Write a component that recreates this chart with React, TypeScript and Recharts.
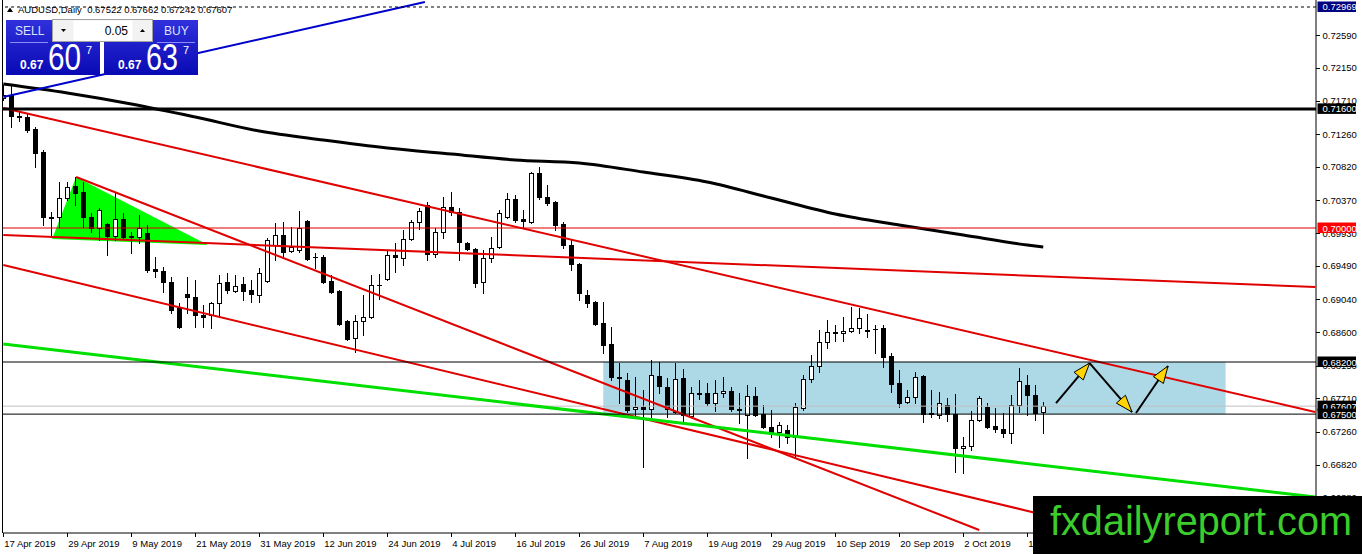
import React from "react";
import { Bar, ComposedChart, Line, ReferenceArea, ReferenceLine, XAxis, YAxis } from "recharts";

const FONT = "'Liberation Sans', Arial, sans-serif";

// date labels on the time axis, every 8th daily bar
const dateLabels = [
  "17 Apr 2019", "29 Apr 2019", "9 May 2019", "21 May 2019", "31 May 2019", "12 Jun 2019",
  "24 Jun 2019", "4 Jul 2019", "16 Jul 2019", "26 Jul 2019", "7 Aug 2019", "19 Aug 2019",
  "29 Aug 2019", "10 Sep 2019", "20 Sep 2019", "2 Oct 2019", "14 Oct 2019",
];
const dateTickBars = [0, 8, 16, 24, 32, 40, 48, 56, 64, 72, 80, 88, 96, 104, 112, 120, 128];

const priceTicks = [
  0.7259, 0.7215, 0.7171, 0.7126, 0.7082, 0.7037, 0.6993, 0.6949,
  0.6904, 0.686, 0.6815, 0.6771, 0.6726, 0.6682, 0.6638,
];

// AUDUSD daily OHLC, 17 Apr 2019 .. 16 Oct 2019
const opens = [
  0.71746, 0.71787, 0.71505, 0.71491, 0.7133, 0.71021, 0.70141, 0.70148, 0.70403, 0.70564,
  0.70484, 0.70148, 0.7, 0.70054, 0.69893, 0.70121, 0.69893, 0.69879, 0.69933, 0.69449,
  0.69422, 0.69275, 0.68925, 0.69113, 0.69073, 0.68831, 0.68831, 0.68992, 0.69275, 0.69154,
  0.69248, 0.69167, 0.691, 0.69288, 0.69772, 0.69906, 0.69691, 0.69704, 0.70094, 0.6961,
  0.6961, 0.69288, 0.69154, 0.68751, 0.68522, 0.68751, 0.68804, 0.69234, 0.69315, 0.69637,
  0.69597, 0.69852, 0.70081, 0.70309, 0.69651, 0.69946, 0.70282, 0.70215, 0.69798, 0.69718,
  0.69275, 0.69597, 0.69745, 0.70148, 0.7039, 0.70121, 0.70081, 0.70739, 0.70416, 0.70349,
  0.70054, 0.69772, 0.69516, 0.691, 0.69006, 0.68724, 0.68442, 0.67998, 0.67958, 0.67568,
  0.67595, 0.67568, 0.68012, 0.67864, 0.67528, 0.67985, 0.67474, 0.6777, 0.67784, 0.67649,
  0.67784, 0.6781, 0.67568, 0.67488, 0.67743, 0.67501, 0.67327, 0.67259, 0.67286, 0.67192,
  0.67582, 0.67971, 0.68146, 0.68469, 0.68603, 0.68589, 0.68616, 0.68657, 0.6863, 0.68643,
  0.68657, 0.6828, 0.67918, 0.67662, 0.6773, 0.68012, 0.67501, 0.67488, 0.67622, 0.67501,
  0.67045, 0.67071, 0.67421, 0.67595, 0.6734, 0.673, 0.67246, 0.67622, 0.67891, 0.67757,
  0.67522,
];
const highs = [
  0.71921, 0.71921, 0.71558, 0.71545, 0.71357, 0.71048, 0.70215, 0.70618, 0.70618, 0.70685,
  0.70618, 0.70202, 0.70269, 0.70067, 0.7047, 0.70202, 0.69946, 0.70175, 0.7004, 0.6961,
  0.69476, 0.69342, 0.68992, 0.69342, 0.69301, 0.68966, 0.69006, 0.69369, 0.69395, 0.69369,
  0.69342, 0.69301, 0.69463, 0.69866, 0.70067, 0.70081, 0.70013, 0.70228, 0.70107, 0.69664,
  0.69637, 0.69369, 0.69167, 0.68764, 0.68831, 0.691, 0.69369, 0.69382, 0.69704, 0.69798,
  0.69973, 0.70107, 0.70269, 0.70349, 0.7, 0.70416, 0.70484, 0.70269, 0.69812, 0.69731,
  0.69704, 0.69879, 0.70242, 0.7047, 0.70443, 0.70242, 0.70752, 0.70819, 0.70578, 0.70362,
  0.70081, 0.69839, 0.6953, 0.69167, 0.6902, 0.69006, 0.6867, 0.68186, 0.68052, 0.67998,
  0.67824, 0.68227, 0.682, 0.67985, 0.68186, 0.68106, 0.67864, 0.67958, 0.67918, 0.67958,
  0.67998, 0.67864, 0.67784, 0.67891, 0.67864, 0.67622, 0.67555, 0.67394, 0.67354, 0.67649,
  0.68025, 0.68294, 0.6863, 0.68764, 0.68697, 0.68804, 0.68939, 0.68925, 0.68845, 0.68697,
  0.68697, 0.68321, 0.68092, 0.67824, 0.68065, 0.68025, 0.67824, 0.67797, 0.67716, 0.6777,
  0.67192, 0.67542, 0.67743, 0.67649, 0.67582, 0.67515, 0.67757, 0.68119, 0.68025, 0.67891,
  0.67662,
];
const lows = [
  0.7172, 0.71357, 0.71437, 0.7129, 0.70819, 0.7004, 0.69879, 0.70013, 0.70376, 0.70309,
  0.70013, 0.69946, 0.69839, 0.69637, 0.69839, 0.69866, 0.69664, 0.69798, 0.69409, 0.69342,
  0.6914, 0.68858, 0.68657, 0.68858, 0.6867, 0.6867, 0.68657, 0.68831, 0.69127, 0.6914,
  0.69033, 0.69006, 0.69006, 0.69275, 0.6957, 0.6961, 0.69678, 0.69678, 0.6957, 0.69463,
  0.69261, 0.69127, 0.68697, 0.68495, 0.68334, 0.68563, 0.68791, 0.69046, 0.69301, 0.69409,
  0.69503, 0.69839, 0.69987, 0.6957, 0.6961, 0.69866, 0.70175, 0.6957, 0.69704, 0.69207,
  0.69127, 0.69543, 0.69731, 0.70134, 0.70081, 0.7, 0.70067, 0.7039, 0.70309, 0.69973,
  0.69731, 0.69436, 0.69033, 0.68939, 0.68697, 0.68321, 0.67958, 0.67649, 0.67528, 0.67488,
  0.66789, 0.67461, 0.67784, 0.67461, 0.67515, 0.6738, 0.67461, 0.67703, 0.67622, 0.67542,
  0.6773, 0.67542, 0.6738, 0.6691, 0.67474, 0.67313, 0.67192, 0.67058, 0.67112, 0.66924,
  0.67555, 0.67931, 0.68065, 0.68388, 0.68482, 0.68482, 0.68603, 0.68589, 0.68536, 0.68321,
  0.68133, 0.67797, 0.67595, 0.67649, 0.67649, 0.67394, 0.67461, 0.67447, 0.67407, 0.66722,
  0.66709, 0.67018, 0.67407, 0.67313, 0.67259, 0.67192, 0.67112, 0.67528, 0.67488, 0.67421,
  0.67242,
];
const closes = [
  0.71787, 0.71505, 0.71491, 0.71317, 0.71008, 0.70148, 0.70154, 0.70403, 0.70551, 0.7047,
  0.70148, 0.7, 0.70242, 0.69893, 0.70121, 0.69879, 0.69879, 0.7, 0.69436, 0.69422,
  0.69275, 0.68898, 0.6867, 0.69073, 0.68831, 0.68804, 0.68992, 0.69261, 0.69167, 0.69221,
  0.69154, 0.69113, 0.69395, 0.69839, 0.69906, 0.69678, 0.69745, 0.7, 0.69584, 0.69604,
  0.69275, 0.6914, 0.6871, 0.68509, 0.68751, 0.68804, 0.69234, 0.69241, 0.69637, 0.6961,
  0.69852, 0.70081, 0.70228, 0.69651, 0.69946, 0.70282, 0.70215, 0.69812, 0.69718, 0.69261,
  0.69597, 0.69731, 0.70202, 0.7039, 0.70107, 0.70094, 0.70739, 0.70416, 0.70336, 0.7004,
  0.69772, 0.69516, 0.69127, 0.68992, 0.6871, 0.68428, 0.67998, 0.67991, 0.67555, 0.67595,
  0.67568, 0.68025, 0.67877, 0.67568, 0.67971, 0.67488, 0.67784, 0.67777, 0.67649, 0.67784,
  0.6781, 0.67568, 0.67562, 0.67743, 0.67488, 0.67327, 0.67259, 0.67354, 0.67192, 0.67595,
  0.67971, 0.68146, 0.68469, 0.68603, 0.68596, 0.68616, 0.68657, 0.68791, 0.68623, 0.68637,
  0.68267, 0.67904, 0.67649, 0.6773, 0.67998, 0.67501, 0.67515, 0.67649, 0.67501, 0.67045,
  0.67071, 0.67421, 0.67716, 0.67327, 0.673, 0.67246, 0.67622, 0.67945, 0.67757, 0.67515,
  0.67607,
];

// moving average read at every 8th bar
const maSamples: [number, number][] = [
  [0, 0.71934], [8, 0.71814], [16, 0.71666], [24, 0.71491], [32, 0.71303], [40, 0.71182],
  [48, 0.71075], [56, 0.70994], [64, 0.70914], [72, 0.70873], [80, 0.70752], [88, 0.70618],
  [96, 0.70403], [104, 0.70188], [112, 0.7004], [120, 0.69906], [128, 0.69772], [130, 0.69745],
];

// horizontal levels
const topLevel = 0.72969;
const resistance = 0.716;
const roundLevel = 0.7;
const zoneHigh = 0.682;
const zoneLow = 0.675;
const bidPrice = 0.67607;
const zoneBars = [75, 152.8];
// price tags on the right scale, drawn after the plain tick labels
const tagPrices = [topLevel, resistance, roundLevel, zoneHigh, bidPrice, zoneLow];

// trend lines as [bar, price] pairs
const redLines: [number, number][][] = [
  [[0, 0.71612], [164, 0.67528]],
  [[0, 0.69906], [164, 0.69207]],
  [[0, 0.69503], [139, 0.65917]],
  [[9.1, 0.70685], [122, 0.65943]],
];
const greenLine: [number, number][] = [[0, 0.68442], [164, 0.66386]];
const blueLine: [number, number][] = [[0, 0.7176], [52.7, 0.73036]];
const triangle: [number, number][] = [[9.1, 0.70685], [6.1, 0.69852], [25.6, 0.69772]];
const arrows: [number, number][][] = [
  [[131.6, 0.67649], [135.8, 0.68186]],
  [[135.8, 0.68186], [141.1, 0.67528]],
  [[141.6, 0.67515], [145.6, 0.68146]],
];

const maByBar = new Map(maSamples);
const data = opens.map((open, i) => ({
  i,
  open,
  high: highs[i],
  low: lows[i],
  close: closes[i],
  ma: maByBar.has(i) ? maByBar.get(i) : null,
}));

const tagBg: Record<string, string> = {
  "0.72969": "#000080",
  "0.70000": "#ff0000",
};

function Candle(props: any) {
  const { x, y, width, height, payload } = props;
  if (!payload || x == null) return null;
  const { open, close, high, low } = payload;
  const top = Math.min(y, y + height);
  const h = Math.abs(height);
  const k = high > low ? h / (high - low) : 0;
  const cx = Math.round(x + width / 2) + 0.5;
  const yO = top + (high - open) * k;
  const yC = top + (high - close) * k;
  const bTop = Math.round(Math.min(yO, yC)) + 0.5;
  const bBot = Math.round(Math.max(yO, yC)) + 0.5;
  const bull = close >= open;
  return (
    <g>
      <line x1={cx} x2={cx} y1={Math.round(top)} y2={Math.round(top + h) + 1} stroke="#000" strokeWidth={1} />
      {bBot - bTop < 1 ? (
        <line x1={cx - 2.5} x2={cx + 2.5} y1={bTop} y2={bTop} stroke="#000" strokeWidth={1} />
      ) : (
        <rect x={cx - 2} y={bTop} width={4} height={bBot - bTop} fill={bull ? "#fff" : "#000"} stroke="#000" strokeWidth={1} />
      )}
    </g>
  );
}

function DateTick(props: any) {
  const { x, y, payload } = props;
  const idx = dateTickBars.indexOf(payload.value);
  return (
    <g>
      <line x1={Math.round(x) + 0.5} x2={Math.round(x) + 0.5} y1={y} y2={y + 4} stroke="#000" />
      <text x={x + 1} y={y + 13.5} fontSize={9.5} fontFamily={FONT} fill="#000">
        {dateLabels[idx]}
      </text>
    </g>
  );
}

function PriceTick(props: any) {
  const { x, y, payload, index } = props;
  const text = payload.value.toFixed(5);
  if (index >= priceTicks.length) {
    return (
      <g>
        <rect x={x + 1.5} y={y - 5.5} width={38.5} height={10.5} fill={tagBg[text] || "#000"} />
        <text x={x + 6.5} y={y + 3.5} fill="#fff" fontSize={9.5} fontFamily={FONT}>
          {text}
        </text>
      </g>
    );
  }
  return (
    <g>
      <line x1={x} x2={x + 4} y1={Math.round(y) + 0.5} y2={Math.round(y) + 0.5} stroke="#000" />
      <text x={x + 6.5} y={y + 3.5} fontSize={9.5} fontFamily={FONT} fill="#000">
        {text}
      </text>
    </g>
  );
}

function ArrowShape(props: any) {
  const { x1, y1, x2, y2 } = props;
  const dx = x2 - x1;
  const dy = y2 - y1;
  const len = Math.hypot(dx, dy) || 1;
  const ux = dx / len;
  const uy = dy / len;
  const hl = 17;
  const hw = 6;
  const bx = x2 - ux * hl;
  const by = y2 - uy * hl;
  const pts = `${x2},${y2} ${bx - uy * hw},${by + ux * hw} ${bx + uy * hw},${by - ux * hw}`;
  return (
    <g>
      <line x1={x1} y1={y1} x2={x2} y2={y2} stroke="#000" strokeWidth={2} />
      <polygon points={pts} fill="#ffd400" stroke="#000" strokeWidth={1} />
    </g>
  );
}

const triXs = triangle.map((p) => p[0]);
const triYs = triangle.map((p) => p[1]);
const triBox = {
  x1: Math.min(...triXs),
  x2: Math.max(...triXs),
  y1: Math.min(...triYs),
  y2: Math.max(...triYs),
};

function TriangleShape(props: any) {
  const { x, y, width, height } = props;
  const pts = triangle
    .map(([b, p]) => {
      const px = x + ((b - triBox.x1) / (triBox.x2 - triBox.x1)) * width;
      const py = y + ((triBox.y2 - p) / (triBox.y2 - triBox.y1)) * height;
      return `${px},${py}`;
    })
    .join(" ");
  return <polygon points={pts} fill="#00ff00" stroke="none" />;
}

function Widget() {
  return (
    <svg width={1362} height={554} style={{ position: "absolute", left: 0, top: 0, pointerEvents: "none" }}>
      <defs>
        <linearGradient id="panelGrad" x1="0" y1="0" x2="0" y2="1">
          <stop offset="0" stopColor="#3030dc" />
          <stop offset="1" stopColor="#0a0ab4" />
        </linearGradient>
      </defs>
      {/* left border of chart */}
      <line x1={2.5} x2={2.5} y1={0} y2={533} stroke="#000" />
      {/* header */}
      <polygon points="7,12 10,7.5 13,12" fill="#000" />
      <text x={18} y={13} fontSize={9.5} fontFamily={FONT} fill="#000" xmlSpace="preserve">
        AUDUSD,Daily  0.67522 0.67662 0.67242 0.67607
      </text>
      {/* one-click trading panel */}
      <rect x={6} y={20} width={94} height={55} fill="url(#panelGrad)" />
      <rect x={104} y={20} width={94} height={55} fill="url(#panelGrad)" />
      <line x1={10} x2={48} y1={42.5} y2={42.5} stroke="#8c8cff" />
      <line x1={157} x2={195} y1={42.5} y2={42.5} stroke="#8c8cff" />
      <text x={15} y={35} fontSize={12} fontFamily={FONT} fill="#dde3ff">SELL</text>
      <text x={164} y={35} fontSize={12} fontFamily={FONT} fill="#dde3ff">BUY</text>
      <rect x={52.5} y={19.5} width={100} height={22} fill="#f2f2f2" stroke="#a0a0a0" />
      <rect x={73.5} y={20.5} width={59} height={20} fill="#fff" />
      <polygon points="61,29 66,29 63.5,32" fill="#000" />
      <polygon points="140,32 145,32 142.5,29" fill="#000" />
      <text x={128} y={35} textAnchor="end" fontSize={12} fontFamily={FONT} fill="#000">0.05</text>
      <text x={20} y={69} fontSize={12} fontWeight="bold" fontFamily={FONT} fill="#fff">0.67</text>
      <text x={48} y={70} fontSize={36} fontFamily={FONT} fill="#fff" textLength={33} lengthAdjust="spacingAndGlyphs">60</text>
      <text x={86} y={54} fontSize={11} fontFamily={FONT} fill="#fff">7</text>
      <text x={118} y={69} fontSize={12} fontWeight="bold" fontFamily={FONT} fill="#fff">0.67</text>
      <text x={146} y={70} fontSize={36} fontFamily={FONT} fill="#fff" textLength={32} lengthAdjust="spacingAndGlyphs">63</text>
      <text x={183} y={54} fontSize={11} fontFamily={FONT} fill="#fff">7</text>
      {/* logo */}
      <rect x={1033} y={496} width={329} height={58} fill="#000" />
      <text x={1050} y={535} fontSize={40} fontFamily={FONT} fill="#3ccc2c" textLength={302} lengthAdjust="spacingAndGlyphs">
        fxdailyreport.com
      </text>
    </svg>
  );
}

export default function App() {
  return (
    <div style={{ position: "absolute", left: 0, top: 0, width: 1362, height: 554, background: "#fff", overflow: "hidden" }}>
      <ComposedChart width={1362} height={554} data={data} margin={{ top: 0, right: 0, bottom: 0, left: 3 }}>
        <XAxis
          type="number"
          dataKey="i"
          domain={[-0.04, 164.1]}
          allowDataOverflow
          ticks={dateTickBars}
          interval={0}
          height={21}
          tickSize={0}
          tickMargin={0}
          tickLine={false}
          axisLine={{ stroke: "#000" }}
          tick={(p: any) => <DateTick {...p} />}
        />
        <YAxis
          orientation="right"
          type="number"
          domain={[0.65903, 0.73063]}
          allowDataOverflow
          ticks={[...priceTicks, ...tagPrices]}
          interval={0}
          width={46}
          tickSize={0}
          tickMargin={0}
          tickLine={false}
          axisLine={{ stroke: "#000" }}
          tick={(p: any) => <PriceTick {...p} />}
        />
        <ReferenceArea
          x1={zoneBars[0]}
          x2={zoneBars[1]}
          y1={zoneLow}
          y2={zoneHigh}
          fill="#add8e6"
          fillOpacity={1}
          stroke="none"
          ifOverflow="visible"
        />
        <ReferenceArea
          x1={triBox.x1}
          x2={triBox.x2}
          y1={triBox.y1}
          y2={triBox.y2}
          ifOverflow="visible"
          shape={(p: any) => <TriangleShape {...p} />}
        />
        <ReferenceLine y={bidPrice} stroke="#c0c0c0" strokeWidth={1} />
        <Bar
          dataKey={(d: any) => [d.low, d.high]}
          barSize={5}
          isAnimationActive={false}
          shape={(p: any) => <Candle {...p} />}
        />
        <Line
          dataKey="ma"
          type="monotone"
          stroke="#000"
          strokeWidth={3}
          dot={false}
          activeDot={false}
          connectNulls
          isAnimationActive={false}
        />
        {redLines.map((seg, k) => (
          <ReferenceLine
            key={`r${k}`}
            segment={seg.map(([x, y]) => ({ x, y }))}
            stroke="#e00000"
            strokeWidth={2}
            ifOverflow="visible"
          />
        ))}
        <ReferenceLine segment={greenLine.map(([x, y]) => ({ x, y }))} stroke="#00e000" strokeWidth={3} ifOverflow="visible" />
        <ReferenceLine segment={blueLine.map(([x, y]) => ({ x, y }))} stroke="#0000cc" strokeWidth={2} ifOverflow="visible" />
        <ReferenceLine y={topLevel} stroke="#000" strokeDasharray="3 3" />
        <ReferenceLine y={resistance} stroke="#000" strokeWidth={3} />
        <ReferenceLine y={roundLevel} stroke="#e00000" strokeWidth={1} />
        <ReferenceLine y={zoneHigh} stroke="#000" strokeWidth={1} />
        <ReferenceLine y={zoneLow} stroke="#000" strokeWidth={1} />
        {arrows.map((seg, k) => (
          <ReferenceLine
            key={`a${k}`}
            segment={seg.map(([x, y]) => ({ x, y }))}
            ifOverflow="visible"
            shape={(p: any) => <ArrowShape {...p} />}
          />
        ))}
      </ComposedChart>
      <Widget />
    </div>
  );
}
